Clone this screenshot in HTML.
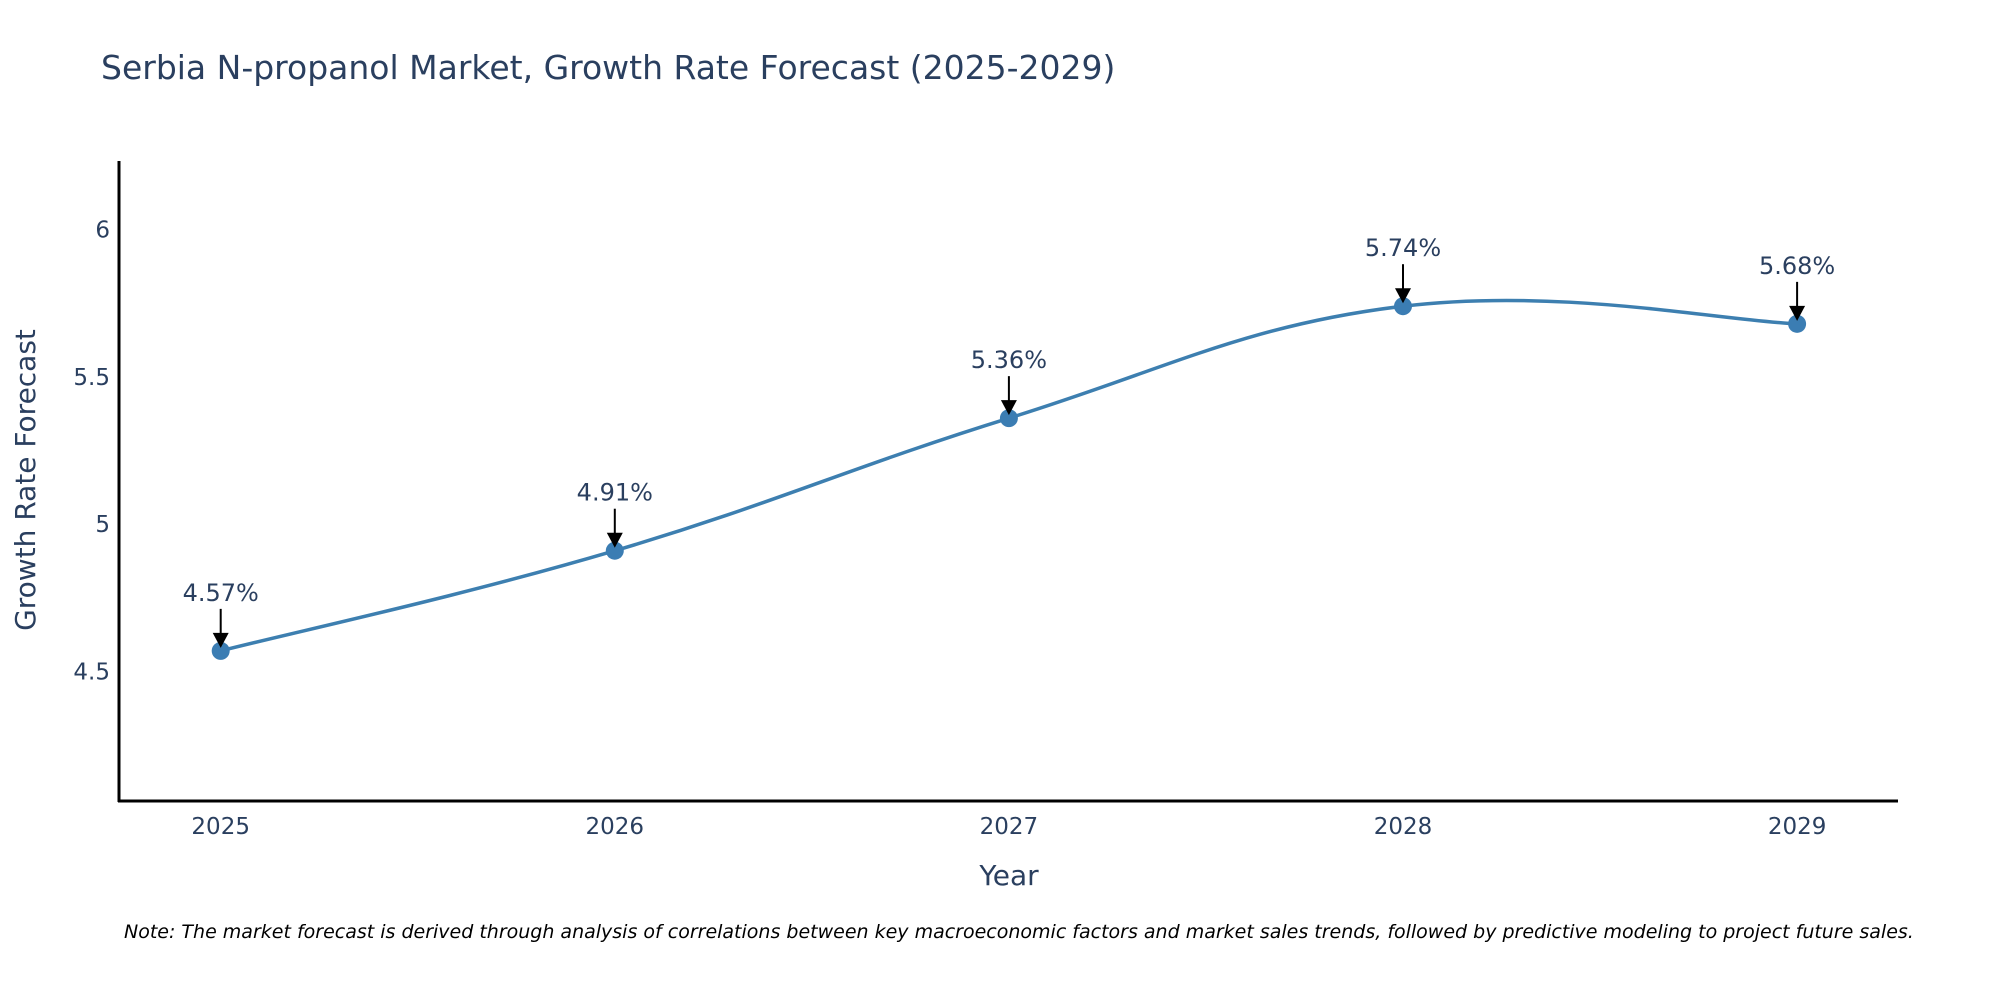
<!DOCTYPE html>
<html><head><meta charset="utf-8"><style>
body{margin:0;background:#fff;}
svg text{font-family:"DejaVu Sans","Liberation Sans",sans-serif;fill:#2a3f5f;}
</style></head><body>
<svg width="2000" height="1000">
<text x="101" y="79" font-size="33">Serbia N-propanol Market, Growth Rate Forecast (2025-2029)</text>
<g id="plot"></g>
<line x1="119" y1="161" x2="119" y2="802" stroke="#000" stroke-width="3"/>
<line x1="118" y1="801" x2="1898" y2="801" stroke="#000" stroke-width="3"/>
<text transform="translate(35,480) rotate(-90)" text-anchor="middle" font-size="28">Growth Rate Forecast</text>
<text x="1009" y="885" text-anchor="middle" font-size="28">Year</text>
<text x="124" y="938" font-size="19" font-style="italic" style="fill:#000">Note: The market forecast is derived through analysis of correlations between key macroeconomic factors and market sales trends, followed by predictive modeling to project future sales.</text>
</svg>
<script>
const years=[2025,2026,2027,2028,2029];
const values=[4.57,4.91,5.36,5.74,5.68];
const labels=["4.57%","4.91%","5.36%","5.74%","5.68%"];
const yTicks=[4.5,5,5.5,6];
const NS="http://www.w3.org/2000/svg";
const g=document.getElementById('plot');
const xs=y=>220.7+(y-2025)*394.1;
const ys=v=>229.6+(6-v)*294.6;
function mk(t,a){const e=document.createElementNS(NS,t);for(const k in a)e.setAttribute(k,a[k]);g.appendChild(e);return e;}
yTicks.forEach(t=>{const e=mk('text',{x:110,y:ys(t)+8,'text-anchor':'end','font-size':23});e.textContent=String(t);

});
years.forEach(y=>{const e=mk('text',{x:xs(y),y:834,'text-anchor':'middle','font-size':23});e.textContent=String(y);

});
const P=years.map((y,i)=>[xs(y),ys(values[i])]);
let d=`M${P[0][0]},${P[0][1]}`;const s=0.2;
for(let i=0;i<P.length-1;i++){const p0=P[i-1]||P[i],p1=P[i],p2=P[i+1],p3=P[i+2]||P[i+1];
d+=` C${p1[0]+(p2[0]-p0[0])*s},${p1[1]+(p2[1]-p0[1])*s} ${p2[0]-(p3[0]-p1[0])*s},${p2[1]-(p3[1]-p1[1])*s} ${p2[0]},${p2[1]}`;}
const line=mk('path',{d:d,fill:'none',stroke:'#3d7fb0','stroke-width':3.5});


P.forEach((p,i)=>{const c=mk('circle',{cx:p[0],cy:p[1],r:9,fill:'#3b7db3'});


const a=mk('line',{x1:p[0],y1:p[1]-42,x2:p[0],y2:p[1]-16,stroke:'#000','stroke-width':2});


const h=mk('polygon',{points:`${p[0]-8},${p[1]-18} ${p[0]+8},${p[1]-18} ${p[0]},${p[1]-3}`,fill:'#000'});


const t=mk('text',{x:p[0],y:p[1]-50,'text-anchor':'middle','font-size':24});t.textContent=labels[i];

});
</script>
</body></html>
